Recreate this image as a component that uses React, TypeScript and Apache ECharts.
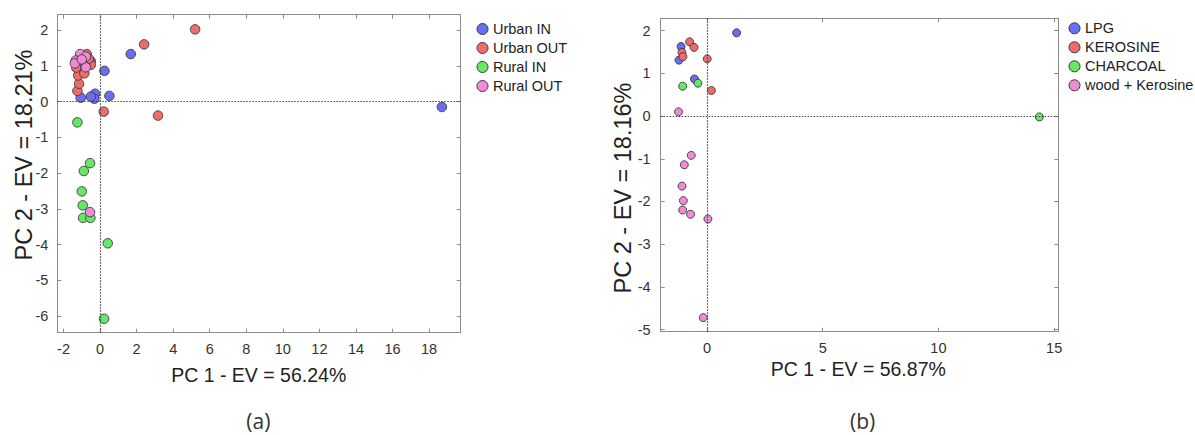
import React, { useEffect, useRef } from "react";
import * as echarts from "echarts";

// ---- Panel (a) data ----
const namesA = ["Urban IN", "Urban OUT", "Rural IN", "Rural OUT"];
const urbanIn = [[18.7, -0.15], [1.68, 1.33], [0.24, 0.86], [0.51, 0.16], [-0.27, 0.22], [-0.31, 0.08], [-0.51, 0.14], [-1.06, 0.11], [-0.51, 1.13], [-1.19, 0.9], [-1.22, 1.0], [-0.95, 1.05]];
const urbanOut = [[5.2, 2.02], [2.41, 1.6], [3.17, -0.39], [0.2, -0.28], [-1.24, 0.3], [-1.15, 0.5], [-1.2, 0.73], [-0.86, 0.79], [-0.51, 1.03], [-0.73, 1.33], [-0.62, 1.2], [-1.3, 0.95]];
const ruralIn = [[-1.24, -0.58], [-0.55, -1.72], [-0.89, -1.94], [-1.0, -2.51], [-0.95, -2.9], [-0.93, -3.25], [-0.53, -3.25], [0.42, -3.96], [0.22, -6.07]];
const ruralOut = [[-1.09, 1.33], [-0.78, 1.26], [-1.33, 1.15], [-1.38, 1.07], [-0.78, 0.96], [-1.0, 1.18], [-0.55, -3.09]];
const xTicksA = [-2, 0, 2, 4, 6, 8, 10, 12, 14, 16, 18];
const yTicksA = [-6, -5, -4, -3, -2, -1, 0, 1, 2];

// ---- Panel (b) data ----
const namesB = ["LPG", "KEROSINE", "CHARCOAL", "wood + Kerosine"];
const lpg = [[1.28, 1.95], [-1.12, 1.63], [-1.21, 1.31], [-0.54, 0.87]];
const kerosine = [[-0.75, 1.74], [-0.56, 1.61], [-1.08, 1.49], [-1.04, 1.39], [0.01, 1.34], [0.19, 0.6]];
const charcoal = [[-1.05, 0.7], [-0.39, 0.77], [14.36, -0.02]];
const woodKero = [[-1.23, 0.1], [-0.68, -0.92], [-0.98, -1.14], [-1.08, -1.64], [-1.02, -1.98], [-1.05, -2.2], [-0.71, -2.3], [0.04, -2.41], [-0.16, -4.72]];
const xTicksB = [0, 5, 10, 15];
const yTicksB = [-5, -4, -3, -2, -1, 0, 1, 2];

const colors = ["#6c6cf2", "#f06c6c", "#66e866", "#f08ad6"];
const FONT = "'Liberation Sans', Arial, sans-serif";

function mkAxis(gridIndex: number, position: string, min: number, max: number, ticks: number[], showLabels: boolean, margin: number) {
  return {
    type: "value",
    gridIndex,
    position,
    min,
    max,
    axisLine: { show: true, onZero: false, lineStyle: { color: "#8c8c8c", width: 1 } },
    axisTick: { show: true, inside: true, length: 4, customValues: ticks, lineStyle: { color: "#8c8c8c" } },
    axisLabel: { show: showLabels, customValues: ticks, margin, fontSize: 14.5, color: "#333", fontFamily: FONT },
    splitLine: { show: false },
  };
}

function scatter(name: string, data: number[][], idx: number, color: string, size: number) {
  return {
    type: "scatter",
    name,
    data,
    xAxisIndex: idx,
    yAxisIndex: idx,
    symbol: "circle",
    symbolSize: size,
    itemStyle: { color, borderColor: "#3a3a3a", borderWidth: 0.9, opacity: 1 },
    z: 3,
  };
}

function zeroLines(idx: number) {
  return {
    type: "scatter",
    name: "zero" + idx,
    data: [],
    xAxisIndex: idx,
    yAxisIndex: idx,
    z: 1,
    silent: true,
    markLine: {
      silent: true,
      animation: false,
      symbol: ["none", "none"],
      label: { show: false },
      lineStyle: { type: [1.5, 1.5], color: "#444", width: 1.2 },
      emphasis: { disabled: true },
      data: [{ xAxis: 0 }, { yAxis: 0 }],
    },
  };
}

export default function App() {
  const ref = useRef<HTMLDivElement>(null);
  useEffect(() => {
    if (!ref.current) return;
    const chart = echarts.init(ref.current, undefined, { renderer: "svg" });
    const legendBase = {
      orient: "vertical",
      itemWidth: 11,
      itemHeight: 11,
      itemGap: 4,
      icon: "circle",
      itemStyle: { borderColor: "#3a3a3a", borderWidth: 1 },
      textStyle: { fontSize: 14.5, color: "#222", fontFamily: FONT },
    };
    chart.setOption({
      animation: false,
      backgroundColor: "#ffffff",
      textStyle: { fontFamily: FONT },
      grid: [
        { left: 57.3, top: 14.7, width: 403.4, height: 318 },
        { left: 660.7, top: 18.3, width: 397.6, height: 313.4 },
      ],
      xAxis: [
        mkAxis(0, "bottom", -2.34, 19.73, xTicksA, true, 9),
        mkAxis(0, "top", -2.34, 19.73, xTicksA, false, 9),
        mkAxis(1, "bottom", -2, 15.18, xTicksB, true, 9),
        mkAxis(1, "top", -2, 15.18, xTicksB, false, 9),
      ],
      yAxis: [
        mkAxis(0, "left", -6.46, 2.43, yTicksA, true, 9),
        mkAxis(0, "right", -6.46, 2.43, yTicksA, false, 9),
        mkAxis(1, "left", -5.05, 2.29, yTicksB, true, 10),
        mkAxis(1, "right", -5.05, 2.29, yTicksB, false, 10),
      ],
      legend: [
        { ...legendBase, left: 471.5, top: 16.5, data: namesA },
        { ...legendBase, left: 1063.5, top: 15.8, data: namesB },
      ],
      series: [
        zeroLines(0),
        scatter(namesA[0], urbanIn, 0, colors[0], 9.5),
        scatter(namesA[1], urbanOut, 0, colors[1], 9.5),
        scatter(namesA[2], ruralIn, 0, colors[2], 9.5),
        scatter(namesA[3], ruralOut, 0, colors[3], 9.5),
        zeroLines(2),
        scatter(namesB[0], lpg, 2, colors[0], 8),
        scatter(namesB[1], kerosine, 2, colors[1], 8),
        scatter(namesB[2], charcoal, 2, colors[2], 8),
        scatter(namesB[3], woodKero, 2, colors[3], 8),
      ],
      graphic: [
        { type: "text", x: 258.7, y: 374.5, style: { text: "PC 1 - EV = 56.24%", fontSize: 19.5, fill: "#222", fontFamily: FONT, align: "center", verticalAlign: "middle" } },
        { type: "text", x: 858.3, y: 368.8, style: { text: "PC 1 - EV = 56.87%", fontSize: 19.5, fill: "#222", fontFamily: FONT, align: "center", verticalAlign: "middle" } },
        { type: "text", x: 24, y: 155, rotation: Math.PI / 2, style: { text: "PC 2 - EV = 18.21%", fontSize: 23.5, fill: "#222", fontFamily: FONT, align: "center", verticalAlign: "middle" } },
        { type: "text", x: 623, y: 188, rotation: Math.PI / 2, style: { text: "PC 2 - EV = 18.16%", fontSize: 23.5, fill: "#222", fontFamily: FONT, align: "center", verticalAlign: "middle" } },
        { type: "text", x: 258.3, y: 421, style: { text: "(a)", fontSize: 21, fill: "#333", fontFamily: "'Open Sans', sans-serif", align: "center", verticalAlign: "middle" } },
        { type: "text", x: 862.7, y: 420.5, style: { text: "(b)", fontSize: 21, fill: "#333", fontFamily: "'Open Sans', sans-serif", align: "center", verticalAlign: "middle" } },
      ],
    });
    return () => chart.dispose();
  }, []);
  return <div ref={ref} style={{ position: "fixed", left: 0, top: 0, width: 1195, height: 435 }} />;
}
